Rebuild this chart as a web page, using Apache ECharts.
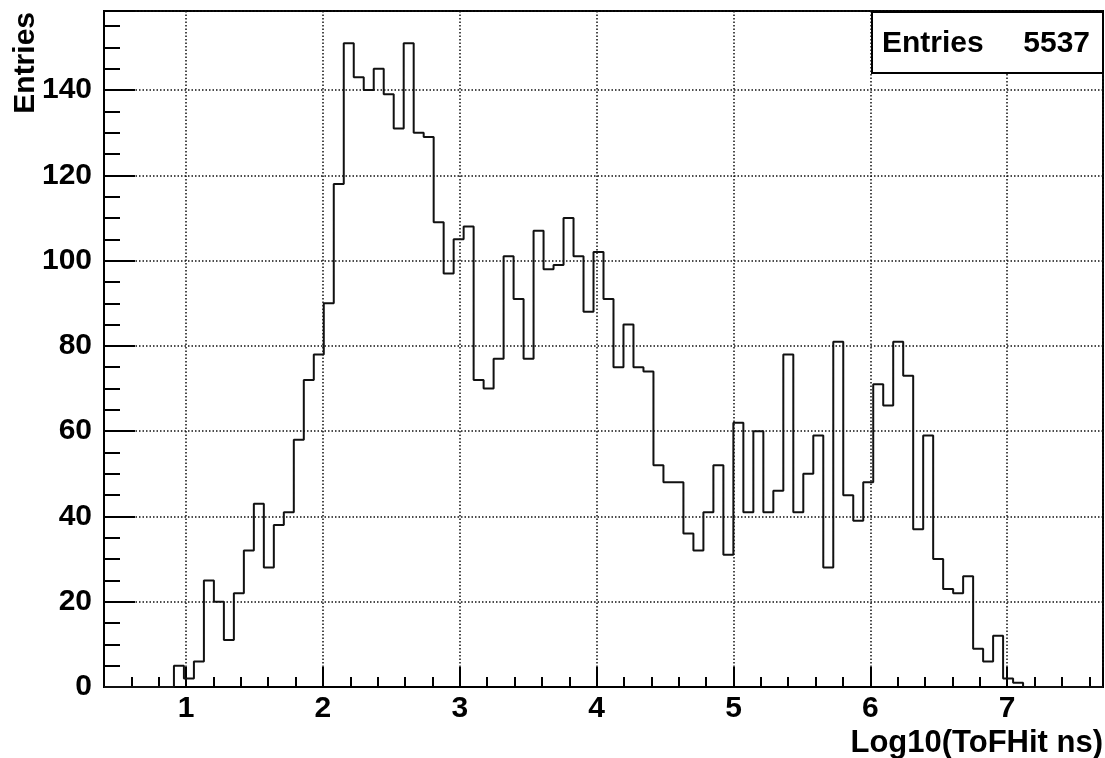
<!DOCTYPE html>
<html>
<head>
<meta charset="utf-8">
<title>Log10(ToFHit ns)</title>
<script src="https://cdn.jsdelivr.net/npm/echarts@6.0.0/dist/echarts.min.js"></script>
<style>
  html, body { margin: 0; padding: 0; background: #ffffff; }
  #chart { width: 1105px; height: 758px; }
</style>
</head>
<body>
<div id="chart"></div>
<script>
// Histogram binning of log10(time-of-flight hit, ns)
const xLow = 0.4;
const xHigh = 7.7;
const nBins = 100;

// Entries per bin, left to right
const counts = [
  0, 0, 0, 0, 0, 0, 0,
  5, 2, 6, 25, 20, 11, 22, 32, 43, 28, 38, 41,
  58, 72, 78, 90,
  118, 151, 143, 140, 145, 139, 131, 151, 130, 129,
  109, 97, 105, 108,
  72, 70, 77, 101, 91, 77, 107, 98, 99, 110,
  101, 88, 102, 91, 75, 85, 75, 74,
  52, 48, 48, 36, 32, 41, 52, 31,
  62, 41, 60, 41, 46, 78, 41, 50,
  59, 28, 81, 45, 39, 48, 71, 66, 81, 73,
  37, 59, 30, 23, 22, 26, 9, 6, 12, 2, 1,
  0, 0, 0, 0, 0, 0, 0, 0
];

const xTitle = 'Log10(ToFHit ns)';
const yTitle = 'Entries';

// Step outline: each point sits on a bin's lower edge
const binWidth = (xHigh - xLow) / nBins;
const outline = counts.map((c, i) => [xLow + i * binWidth, c]);
outline.push([xHigh, 0]);

const entries = counts.reduce((a, b) => a + b, 0);
const yTop = Math.max(...counts) * 1.05;

const FONT = '"Liberation Sans", Arial, Helvetica, sans-serif';
const gridDots = { color: '#111', width: 1.5, type: [1.5, 2] };

const chart = echarts.init(document.getElementById('chart'), null, { renderer: 'canvas' });
chart.setOption({
  animation: false,
  backgroundColor: '#ffffff',
  grid: {
    left: 104, right: 2, top: 11, bottom: 71,
    show: true, borderColor: '#000', borderWidth: 2, backgroundColor: 'transparent'
  },
  xAxis: {
    type: 'value',
    min: xLow,
    max: xHigh,
    splitNumber: 7,
    axisLine: { show: true, onZero: false, lineStyle: { color: '#000', width: 2 } },
    axisTick: { show: true, inside: true, length: 20, lineStyle: { color: '#000', width: 2 } },
    minorTick: { show: true, splitNumber: 5, length: 10, lineStyle: { color: '#000', width: 2 } },
    splitLine: { show: true, lineStyle: gridDots },
    axisLabel: {
      show: true, margin: 7, color: '#000', fontFamily: FONT, fontWeight: 'bold', fontSize: 30,
      showMinLabel: false, showMaxLabel: false
    }
  },
  yAxis: {
    type: 'value',
    min: 0,
    max: yTop,
    interval: 20,
    axisLine: { show: true, lineStyle: { color: '#000', width: 2 } },
    axisTick: { show: true, inside: true, length: 31, lineStyle: { color: '#000', width: 2 } },
    minorTick: { show: true, splitNumber: 4, length: 16, lineStyle: { color: '#000', width: 2 } },
    splitLine: { show: true, lineStyle: gridDots },
    axisLabel: {
      show: true, margin: 12, color: '#000', fontFamily: FONT, fontWeight: 'bold', fontSize: 30,
      showMaxLabel: false
    }
  },
  series: [{
    type: 'line',
    step: 'end',
    data: outline,
    symbol: 'none',
    lineStyle: { color: '#111', width: 2 },
    z: 3
  }],
  graphic: [
    {
      type: 'text',
      x: 26, y: 12,
      rotation: Math.PI / 2,
      style: {
        text: yTitle, fill: '#000', font: 'bold 30px ' + FONT,
        align: 'right', verticalAlign: 'middle'
      }
    },
    {
      type: 'text',
      x: 1103, y: 743,
      style: {
        text: xTitle, fill: '#000', font: 'bold 31px ' + FONT,
        align: 'right', verticalAlign: 'middle'
      }
    },
    // Statistics box in the top-right corner
    {
      type: 'rect',
      z: 100,
      shape: { x: 872, y: 12, width: 231, height: 61 },
      style: { fill: '#ffffff', stroke: '#000', lineWidth: 2 }
    },
    {
      type: 'text',
      z: 101,
      x: 882, y: 44,
      style: { text: 'Entries', fill: '#000', font: 'bold 30px ' + FONT, align: 'left', verticalAlign: 'middle' }
    },
    {
      type: 'text',
      z: 101,
      x: 1090, y: 44,
      style: { text: String(entries), fill: '#000', font: 'bold 30px ' + FONT, align: 'right', verticalAlign: 'middle' }
    }
  ]
});
</script>
</body>
</html>
